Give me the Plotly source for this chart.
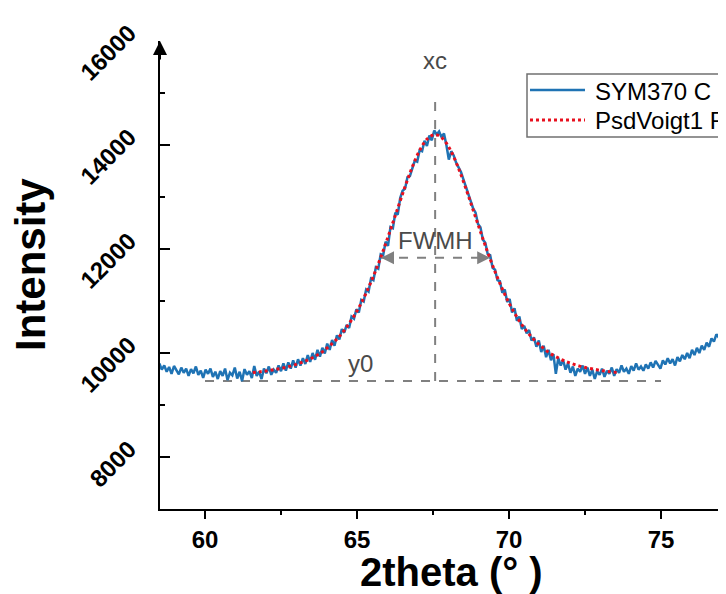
import numpy as np
import plotly.graph_objects as go

# ---------------- data ----------------
theta_start = 58.50
theta_step = 0.08
sym370_intensity = [
    # 58.50 - 60.42
    9800, 9680, 9760, 9640, 9730, 9600, 9750, 9660, 9590, 9720, 9620, 9700, 9560, 9690, 9610, 9740, 9580, 9660, 9520, 9680, 9600, 9700, 9540, 9640, 9500,
    # 60.50 - 62.42
    9650, 9560, 9700, 9480, 9620, 9570, 9720, 9510, 9640, 9460, 9690, 9580, 9650, 9520, 9750, 9560, 9640, 9500, 9700, 9610, 9740, 9580, 9680, 9620, 9760,
    # 62.50 - 64.42
    9650, 9800, 9660, 9820, 9700, 9860, 9720, 9880, 9760, 9900, 9790, 9960, 9830, 10000, 9870, 10060, 9930, 10100, 9990, 10180, 10060, 10250, 10140, 10340, 10260,
    # 64.50 - 66.42
    10460, 10390, 10540, 10480, 10700, 10660, 10840, 10780, 11020, 10990, 11220, 11180, 11430, 11400, 11650, 11620, 11900, 11880, 12140, 12060, 12420, 12400, 12700, 12660, 12980,
    # 66.50 - 68.42
    13120, 13160, 13380, 13400, 13560, 13700, 13680, 13900, 13880, 14080, 13980, 14180, 14090, 14280, 14200, 14260, 14150, 14220, 14000, 13720, 13880, 13800, 13660, 13560, 13480,
    # 68.50 - 70.42
    13340, 13200, 13080, 12960, 12780, 12700, 12480, 12420, 12180, 12120, 11900, 11880, 11640, 11600, 11400, 11380, 11160, 11220, 10980, 11040, 10780, 10860, 10620, 10700, 10460,
    # 70.50 - 72.42
    10520, 10380, 10440, 10240, 10300, 10120, 10240, 10020, 10140, 9920, 10060, 9860, 9980, 9600, 9900, 9760, 9860, 9680, 9800, 9620, 9740, 9560, 9700, 9640, 9760,
    # 72.50 - 74.42
    9600, 9720, 9560, 9680, 9500, 9650, 9580, 9700, 9540, 9660, 9600, 9720, 9560, 9690, 9620, 9760, 9640, 9700, 9600, 9750, 9660, 9800, 9680, 9740, 9660,
    # 74.50 - 76.42
    9780, 9700, 9820, 9720, 9850, 9760, 9700, 9860, 9780, 9900, 9800, 9880, 9760, 9920, 9840, 9960, 9880, 10000, 9900, 10060, 9960, 10100, 10000, 10140, 10060,
    # 76.50 - 77.38
    10200, 10120, 10280, 10220, 10360, 10300, 10420, 10380, 10520, 10480, 10660, 10800,
]
theta = np.round(theta_start + theta_step * np.arange(len(sym370_intensity)), 2)

fit_start = 61.57
fit_step = 0.25
fit_intensity = [
    9625, 9640, 9660, 9685, 9712, 9748, 9795, 9850, 9920, 10005, 10124, 10258, 10427,
    10636, 10882, 11181, 11522, 11901, 12318, 12750, 13181, 13579, 13906, 14124, 14200,
    14124, 13906, 13579, 13181, 12750, 12318, 11901, 11522, 11181, 10882, 10636, 10427,
    10258, 10124, 10005, 9920, 9850, 9795, 9748, 9712, 9685, 9660, 9640, 9625,
]
fit_theta = np.round(fit_start + fit_step * np.arange(len(fit_intensity)), 2)

# fit parameters shown as guides
xc = 67.57
y0 = 9460
half_max = 11830
fwhm_left = 65.79
fwhm_right = 69.38
y0_line_from = 60
y0_line_to = 75
xc_line_top = 15000

x_ticks = [60, 65, 70, 75]
y_ticks = [8000, 10000, 12000, 14000, 16000]
x_title = "2theta (° )"
y_title = "Intensity"
series_names = ["SYM370 C", "PsdVoigt1 Fit"]

FONT = "Arial, Liberation Sans, sans-serif"
GUIDE = "#808080"
LABEL = "#4a4a4a"
BLUE = "#1f73b4"
RED = "#e8101e"

# plot area in pixels (for paper-coordinate decorations)
L, R, T, B = 152, 726, 33, 501
def px(xp):
    return (xp - L) / (R - L)
def py(yp):
    return (B - yp) / (B - T)

fig = go.Figure()
fig.add_trace(go.Scatter(
    x=theta, y=sym370_intensity, mode="lines", name=series_names[0], showlegend=False,
    line=dict(color=BLUE, width=2.5),
))
fig.add_trace(go.Scatter(
    x=fit_theta, y=fit_intensity, mode="lines", name=series_names[1], showlegend=False,
    line=dict(color=RED, width=3, dash="dot", shape="spline"),
))

# guide lines
fig.add_shape(type="line", x0=y0_line_from, x1=y0_line_to, y0=y0, y1=y0,
              line=dict(color=GUIDE, width=2, dash="dash"), layer="below")
fig.add_shape(type="line", x0=xc, x1=xc, y0=y0, y1=xc_line_top,
              line=dict(color=GUIDE, width=2, dash="dash"), layer="below")
fig.add_shape(type="line", x0=fwhm_left, x1=fwhm_right, y0=half_max, y1=half_max,
              line=dict(color=GUIDE, width=2, dash="dash"), layer="below")

# legend box (drawn by hand so its size matches the original)
fig.add_shape(type="rect", xref="paper", yref="paper", x0=px(519), x1=px(760), y0=py(129), y1=py(66),
              line=dict(color="#707070", width=1.5), fillcolor="white", layer="above")
fig.add_shape(type="line", xref="paper", yref="paper", x0=px(522), x1=px(577), y0=py(82), y1=py(82),
              line=dict(color=BLUE, width=2.5), layer="above")
fig.add_shape(type="line", xref="paper", yref="paper", x0=px(522), x1=px(577), y0=py(112), y1=py(112),
              line=dict(color=RED, width=3, dash="dot"), layer="above")

annos = []
annos.append(dict(x=px(585), y=py(84), xref="paper", yref="paper", xanchor="left", yanchor="middle",
                  text=series_names[0], showarrow=False, font=dict(family=FONT, size=24, color="black")))
annos.append(dict(x=px(585), y=py(113), xref="paper", yref="paper", xanchor="left", yanchor="middle",
                  text=series_names[1], showarrow=False, font=dict(family=FONT, size=24, color="black")))
# FWHM arrowheads
annos.append(dict(x=fwhm_left, y=half_max, xref="x", yref="y", ax=14, ay=0, text="",
                  showarrow=True, arrowhead=2, arrowsize=1.3, arrowwidth=2, arrowcolor=GUIDE))
annos.append(dict(x=fwhm_right, y=half_max, xref="x", yref="y", ax=-14, ay=0, text="",
                  showarrow=True, arrowhead=2, arrowsize=1.3, arrowwidth=2, arrowcolor=GUIDE))
# labels
annos.append(dict(x=xc, y=15620, xref="x", yref="y", text="xc", showarrow=False,
                  font=dict(family=FONT, size=24, color=LABEL)))
annos.append(dict(x=xc, y=12160, xref="x", yref="y", text="FWMH", showarrow=False,
                  font=dict(family=FONT, size=24, color=LABEL)))
annos.append(dict(x=65.1, y=9790, xref="x", yref="y", text="y0", showarrow=False,
                  font=dict(family=FONT, size=24, color=LABEL)))
# y-axis arrow head
annos.append(dict(x=0, y=16000, xref="paper", yref="y", ax=0, ay=20, text="",
                  showarrow=True, arrowhead=2, arrowsize=1.4, arrowwidth=2, arrowcolor="black"))
# axis titles
annos.append(dict(x=px(443), y=py(564), xref="paper", yref="paper",
                  xanchor="center", yanchor="middle", text=x_title, showarrow=False,
                  font=dict(family=FONT, size=40, color="black", weight="bold")))
annos.append(dict(x=px(22), y=py(257), xref="paper", yref="paper",
                  xanchor="center", yanchor="middle", text=y_title, showarrow=False, textangle=-90,
                  font=dict(family=FONT, size=42, color="black", weight="bold")))

fig.update_layout(
    width=726, height=594,
    margin=dict(l=L, r=726 - R, t=T, b=594 - B, pad=0),
    paper_bgcolor="white", plot_bgcolor="white",
    font=dict(family=FONT, color="black"),
    annotations=annos,
    showlegend=False,
    xaxis=dict(
        range=[58.52, 77.40], tickmode="array", tickvals=x_ticks,
        showline=True, linecolor="black", linewidth=2, mirror=False,
        ticks="outside", ticklen=8, tickwidth=2, tickcolor="black",
        minor=dict(dtick=2.5, tick0=0, ticks="outside", ticklen=4, tickwidth=2, tickcolor="black"),
        showgrid=False, zeroline=False,
        tickfont=dict(family=FONT, size=24, color="black", weight="bold"),
        automargin=False,
    ),
    yaxis=dict(
        range=[7000, 16000], tickmode="array", tickvals=y_ticks, tickformat="d",
        showline=True, linecolor="black", linewidth=2, mirror=False,
        ticks="inside", ticklen=10, tickwidth=2, tickcolor="black",
        minor=dict(dtick=1000, tick0=0, ticks="inside", ticklen=5, tickwidth=2, tickcolor="black"),
        showgrid=False, zeroline=False, tickangle=-45, ticklabelstandoff=24, ticklabelshift=-11,
        tickfont=dict(family=FONT, size=24, color="black", weight="bold"),
        automargin=False,
    ),
)

fig.write_html("out.html")
